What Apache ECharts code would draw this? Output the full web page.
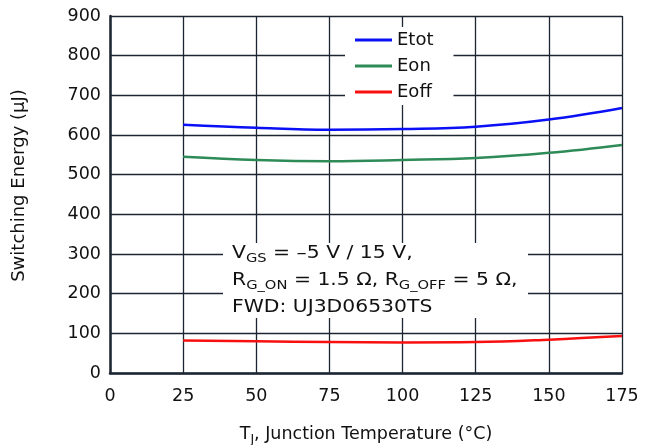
<!DOCTYPE html>
<html><head><meta charset="utf-8">
<script src="https://cdn.jsdelivr.net/npm/echarts@6/dist/echarts.min.js"></script>
<style>html,body{margin:0;padding:0;background:#fff}#c{width:655px;height:445px}</style>
</head><body><div id="c"></div>
<script>
const temps = [25, 50, 75, 100, 125, 150, 175];
const etot = [626, 618, 613, 615, 621, 639, 668];
const eon = [545, 537, 534, 537, 542, 555, 575];
const eoff = [82, 80, 78, 77, 78, 84, 93];
const xTicks = [0, 25, 50, 75, 100, 125, 150, 175];
const yTicks = [0, 100, 200, 300, 400, 500, 600, 700, 800, 900];

const FONT = 'DejaVu Sans, sans-serif';
const FS = 17.5;
const gridColor = '#1c2633';
const chart = echarts.init(document.getElementById('c'));
function mk(name, data, color) {
  return { name, type: 'line', data: temps.map((t, i) => [t, data[i]]), smooth: 0.4, symbol: 'none',
    lineStyle: { color, width: 2.5 }, itemStyle: { color }, z: 5 };
}
chart.setOption({
  animation: false,
  textStyle: { fontFamily: FONT },
  grid: { left: 110, right: 33, top: 16, bottom: 72, containLabel: false, outerBoundsMode: 'none' },
  xAxis: {
    type: 'value', min: xTicks[0], max: xTicks[xTicks.length - 1], interval: 25,
    axisLine: { show: true, onZero: false, lineStyle: { color: gridColor, width: 2.5 } },
    axisTick: { show: false },
    splitLine: { show: true, lineStyle: { color: gridColor, width: 1.3 } },
    axisLabel: { color: '#111', fontSize: FS, margin: 14, fontFamily: FONT },
    name: '{n|T}{s|J}{n|, Junction Temperature (°C)}', nameLocation: 'middle', nameGap: 50,
    nameTextStyle: { color: '#111', fontFamily: FONT,
      rich: { n: { fontSize: FS, color: '#111', fontFamily: FONT }, s: { fontSize: 12.5, color: '#111', fontFamily: FONT, padding: [10, 0, 0, 0] } } }
  },
  yAxis: {
    type: 'value', min: yTicks[0], max: yTicks[yTicks.length - 1], interval: 100,
    axisLine: { show: true, lineStyle: { color: gridColor, width: 2.5 } },
    axisTick: { show: false },
    splitLine: { show: true, lineStyle: { color: gridColor, width: 1.3 } },
    axisLabel: { color: '#111', fontSize: FS, margin: 9, fontFamily: FONT },
    name: 'Switching Energy (μJ)', nameLocation: 'middle', nameGap: 82, nameRotate: 90,
    nameTextStyle: { color: '#111', fontSize: 18, fontFamily: FONT, padding: [0, 0, 0, 18] }
  },
  legend: {
    orient: 'vertical', left: 345, top: 27, backgroundColor: '#fff',
    padding: [4, 20, 4, 10], itemWidth: 37, itemHeight: 3, itemGap: 8, icon: 'rect',
    textStyle: { color: '#111', fontSize: 18, fontFamily: FONT },
    data: ['Etot', 'Eon', 'Eoff']
  },
  graphic: [{
    type: 'rect', left: 223, top: 243, shape: { width: 305, height: 75 }, style: { fill: '#fff' }, z: 10
  }, {
    type: 'text', x: 232, y: 240, scaleX: 1.13, z: 11,
    style: {
      x: 0, y: 0,
      text: '{n|V}{s|GS}{n| = –5 V / 15 V,}\n{n|R}{s|G_ON}{n| = 1.5 Ω, R}{s|G_OFF}{n| = 5 Ω,}\n{n|FWD: UJ3D06530TS}',
      fill: '#111', fontFamily: FONT,
      rich: {
        n: { fontSize: 18, fill: '#111', fontFamily: FONT, lineHeight: 27 },
        s: { fontSize: 13, fill: '#111', fontFamily: FONT, lineHeight: 27, padding: [11, 0, 0, 0] }
      }
    }
  }],
  series: [mk('Etot', etot, '#0a10f5'), mk('Eon', eon, '#2e8b57'), mk('Eoff', eoff, '#f81010')]
});
</script></body></html>
